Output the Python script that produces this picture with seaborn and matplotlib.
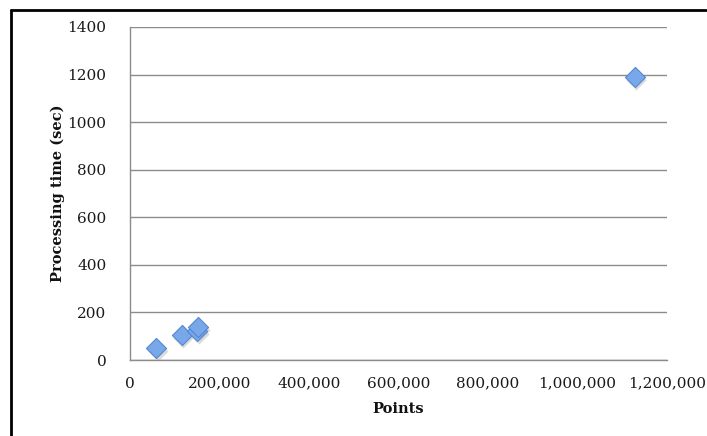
import matplotlib
matplotlib.use("Agg")
import matplotlib.pyplot as plt
import matplotlib.ticker as mticker
from matplotlib.lines import Line2D
import seaborn as sns
import pandas as pd

points = [58000, 116000, 150000, 152000, 1128000]
times = [50, 104, 122, 139, 1190]
x_label = "Points"
y_label = "Processing time (sec)"

sns.set_theme(style="white")
plt.rcParams['font.family'] = ['DejaVu Serif']

df = pd.DataFrame({"Points": points, "Time": times})

fig = plt.figure(figsize=(7.07, 4.36), dpi=100)
ax = fig.add_axes([130/707, 1-360/436, (667-130)/707, (360-27)/436])

# soft shadow
ax.scatter([p + 3500 for p in points], [t - 12 for t in times], marker="D", s=105,
           color="#bbbbbb", alpha=0.5, linewidths=0, zorder=2)
sns.scatterplot(data=df, x="Points", y="Time", marker="D", s=105,
                color="#78a8ea", edgecolor="#5287d0", linewidth=0.8, ax=ax, zorder=3)

ax.set_xlim(0, 1200000)
ax.set_ylim(0, 1400)
ax.set_xticks(range(0, 1200001, 200000))
ax.set_yticks(range(0, 1401, 200))
ax.xaxis.set_major_formatter(mticker.FuncFormatter(lambda v, p: f"{int(v):,}"))
ax.yaxis.grid(True, color="#8c8c8c", linewidth=1.0)
ax.xaxis.grid(False)
ax.set_axisbelow(True)
for s in ["top", "right"]:
    ax.spines[s].set_visible(False)
for s in ["left", "bottom"]:
    ax.spines[s].set_color("#8c8c8c")
    ax.spines[s].set_linewidth(1.0)
ax.tick_params(axis="x", length=0, labelsize=11, colors="#1a1a1a", pad=12)
ax.tick_params(axis="y", length=0, labelsize=11, colors="#1a1a1a", pad=17)
ax.set_xlabel(x_label, fontsize=10.5, fontweight="bold", color="#111111", labelpad=8)
ax.set_ylabel(y_label, fontsize=10.5, fontweight="bold", color="#111111", labelpad=2)

# figure frame lines (top and left)
fig.add_artist(Line2D([11/707, 706/707], [1-10/436, 1-10/436], color="black", linewidth=2, transform=fig.transFigure))
fig.add_artist(Line2D([11/707, 11/707], [1-10/436, 0], color="black", linewidth=2, transform=fig.transFigure))

fig.savefig("out.png", dpi=100)
